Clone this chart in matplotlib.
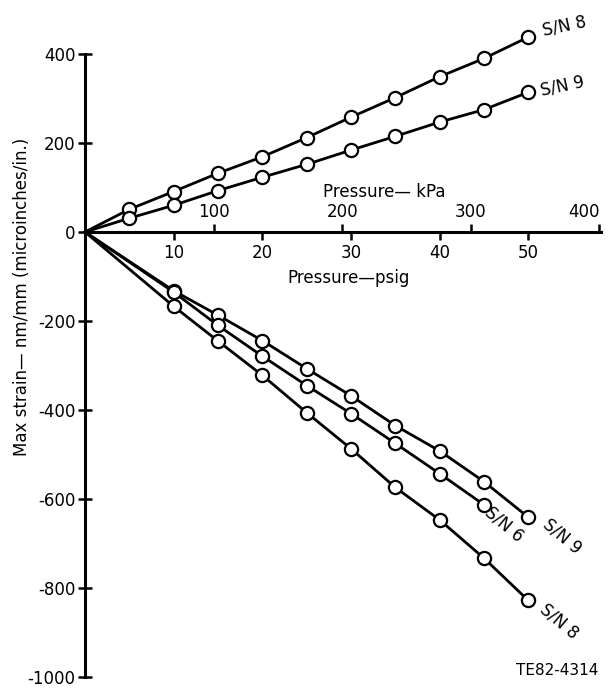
import matplotlib
matplotlib.use('Agg')
import matplotlib.pyplot as plt
import numpy as np

plt.rcParams['font.family'] = ['DejaVu Sans']

# pressure, psig
p_top = [0, 5, 10, 15, 20, 25, 30, 35, 40, 45, 50]
p_bot = [0, 10, 15, 20, 25, 30, 35, 40, 45, 50]
p_bot6 = [0, 10, 15, 20, 25, 30, 35, 40, 45]

# max strain, nm/mm
sn8_top = [0, 51, 91, 132, 169, 212, 258, 302, 349, 390, 438]
sn9_top = [0, 31, 60, 93, 123, 152, 184, 215, 247, 275, 314]
sn9_bot = [0, -132, -187, -244, -307, -368, -435, -492, -561, -641]
sn6_bot = [0, -135, -210, -279, -345, -408, -475, -543, -613]
sn8_bot = [0, -167, -245, -322, -406, -487, -574, -647, -733, -828]

psig_ticks = [10, 20, 30, 40, 50]
kpa_ticks = [100, 200, 300, 400]
y_ticks = [400, 200, 0, -200, -400, -600, -800, -1000]

fig = plt.figure(figsize=(6.11, 6.9), dpi=100)
ax = fig.add_axes([85/611, 1 - 677/690, 516/611, 623/690])

series = [(p_top, sn8_top), (p_top, sn9_top), (p_bot, sn9_bot),
          (p_bot6, sn6_bot), (p_bot, sn8_bot)]
for xs, ys in series:
    ax.plot(xs, ys, color='black', lw=2.0, clip_on=False, zorder=3)
    ax.plot(xs[1:], ys[1:], 'o', ms=9.5, mfc='white', mec='black', mew=1.6,
            clip_on=False, zorder=4)

ax.set_xlim(0, 58.2)
ax.set_ylim(-1000, 400)

ax.spines['top'].set_visible(False)
ax.spines['right'].set_visible(False)
ax.spines['bottom'].set_position(('data', 0))
ax.spines['left'].set_linewidth(2.2)
ax.spines['bottom'].set_linewidth(2.2)

ax.set_xticks(psig_ticks)
ax.set_yticks(y_ticks)
ax.set_yticklabels([str(v) for v in y_ticks])
ax.tick_params(axis='x', direction='out', length=6, width=1.8, pad=3, labelsize=12)
ax.tick_params(axis='y', direction='inout', length=10, width=1.8, pad=2, labelsize=12)

ax.set_xlabel('Pressure—psig', fontsize=12)
ax.xaxis.set_label_coords(0.51, 0.655, transform=ax.transAxes)
ax.set_ylabel('Max strain— nm/mm (microinches/in.)', fontsize=12)
ax.yaxis.set_label_coords(-0.105, 0.61)

sec = ax.secondary_xaxis(1000/1400, functions=(lambda p: p * 6.895, lambda k: k / 6.895))
sec.set_xticks(kpa_ticks)
sec.tick_params(direction='out', length=6, width=1.8, pad=2, labelsize=12)
sec.spines['top'].set_visible(False)
sec.set_xlabel('Pressure— kPa', fontsize=12)
sec.xaxis.set_label_coords(0.58, 0.77, transform=ax.transAxes)
# last kPa label sits at the right edge of the figure
sec.get_xticklabels()[-1].set_horizontalalignment('right')

# curve labels
ax.text(54.1, 463, 'S/N 8', fontsize=12, rotation=12, ha='center', va='center')
ax.text(53.8, 328, 'S/N 9', fontsize=12, rotation=12, ha='center', va='center')
ax.text(47.3, -657, 'S/N 6', fontsize=12, rotation=-40, ha='center', va='center')
ax.text(53.8, -684, 'S/N 9', fontsize=12, rotation=-40, ha='center', va='center')
ax.text(53.5, -874, 'S/N 8', fontsize=12, rotation=-40, ha='center', va='center')
ax.text(53.3, -985, 'TE82-4314', fontsize=11, ha='center', va='center')

fig.savefig('out.png', dpi=100)
